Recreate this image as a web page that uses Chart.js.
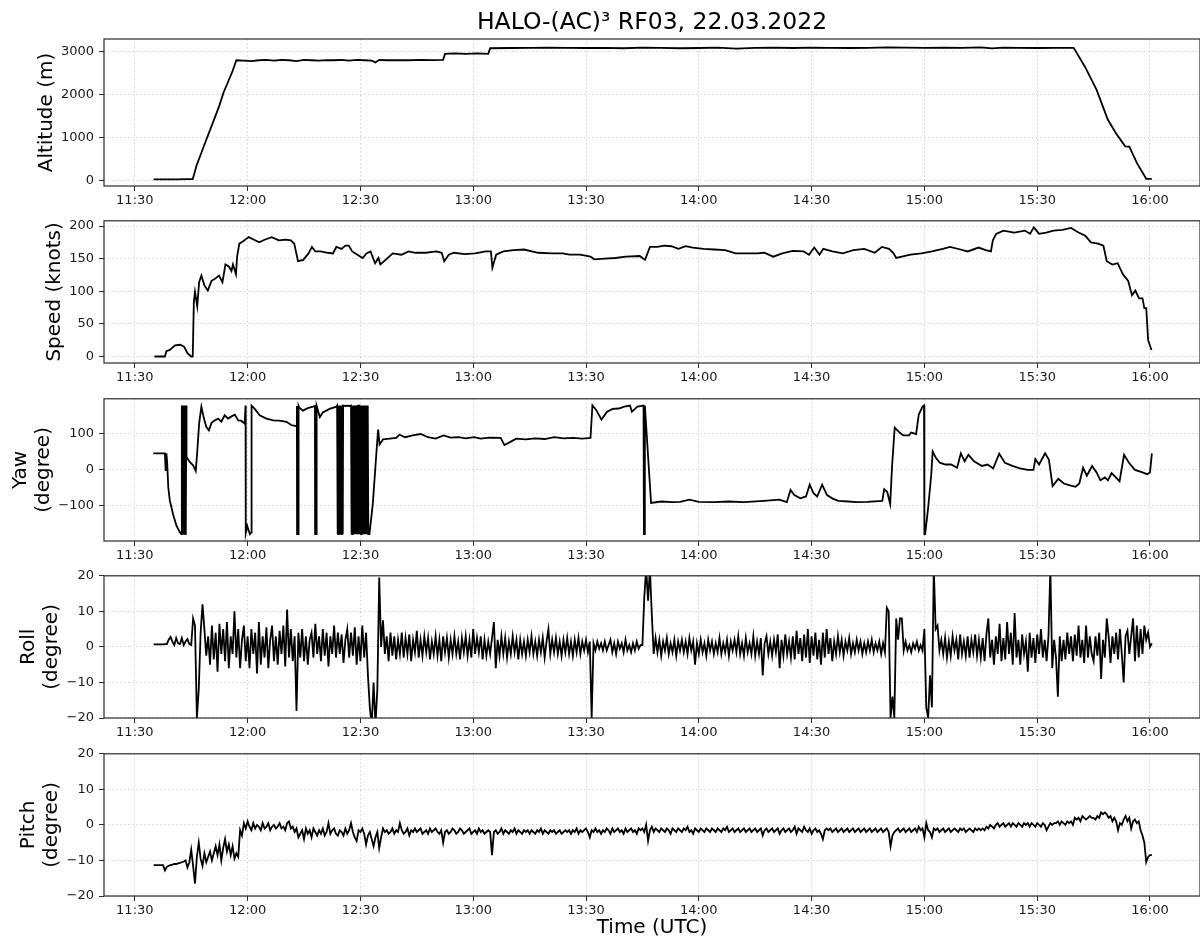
<!DOCTYPE html>
<html>
<head>
<meta charset="utf-8">
<script src="https://cdn.jsdelivr.net/npm/chart.js@4.4.1/dist/chart.umd.min.js"></script>
<style>
  html, body { margin: 0; padding: 0; background: #fff; }
  body { width: 1200px; height: 943px; position: relative; overflow: hidden; }
  canvas { position: absolute; left: 0; }
</style>
</head>
<body>
<script>
const figTitle = 'HALO-(AC)³ RF03, 22.03.2022';
const xTickLabels = ['11:30', '12:00', '12:30', '13:00', '13:30', '14:00', '14:30', '15:00', '15:30', '16:00'];

// [minutes after 00:00 UTC, value]
const altitude = [
  [695, 25], [698, 28], [701, 27], [704, 30], [705.4, 32], [706.5, 370], [707.5, 600], [709, 950], [711, 1400],
  [712.5, 1750], [713.6, 2050], [715, 2340], [716, 2550], [717, 2800], [719, 2790], [721, 2780], [723, 2800],
  [725, 2810], [727, 2790], [729, 2810], [731, 2800], [733, 2780], [735, 2810], [737, 2800], [739, 2790],
  [741, 2805], [743, 2800], [745, 2810], [747, 2790], [749, 2810], [751, 2800], [753, 2790], [754, 2750],
  [755, 2810], [757, 2800], [760, 2805], [763, 2800], [766, 2810], [769, 2805], [772, 2810], [772.5, 2950],
  [775, 2960], [778, 2950], [781, 2960], [784, 2950], [784.5, 3080], [790, 3085], [795, 3090], [800, 3095],
  [805, 3090], [810, 3085], [815, 3090], [820, 3080], [825, 3095], [830, 3090], [835, 3080], [840, 3085],
  [845, 3095], [850, 3070], [855, 3090], [860, 3095], [865, 3085], [870, 3095], [875, 3090], [880, 3085],
  [885, 3090], [890, 3100], [895, 3095], [900, 3090], [905, 3095], [910, 3090], [915, 3100], [918, 3075],
  [921, 3095], [925, 3090], [930, 3085], [935, 3090], [939.7, 3090], [942.7, 2650], [945.8, 2110],
  [948.8, 1415], [950.9, 1106], [953.4, 796], [954.5, 790], [956.5, 410], [959, 40], [960.5, 40]
];

const speed = [
  [695.2, 0], [698, 0], [698.4, 8], [699.3, 10], [700.7, 17], [702.1, 18], [703.1, 15], [704, 5], [705, 0],
  [705.4, 0], [705.7, 84], [706, 99], [706.6, 77], [707.1, 114], [707.7, 124], [708.5, 109], [709.4, 101],
  [710.4, 116], [711.3, 119], [712.4, 124], [713.3, 114], [714.1, 141], [715, 138], [715.7, 131], [716.1, 141],
  [716.9, 126], [717.2, 153], [717.8, 173], [718.9, 177], [720.3, 183], [721.7, 179], [723.1, 175], [724.5, 179],
  [726.4, 183], [728.3, 178], [730.1, 179], [731.5, 178], [732.4, 173], [733.4, 146], [734.8, 148], [736.2, 158],
  [737.1, 168], [738, 161], [739.4, 161], [741.3, 159], [742.7, 158], [743.6, 168], [745, 165], [746, 170],
  [746.9, 170], [747.8, 161], [749.2, 156], [750.6, 151], [751.6, 158], [752.7, 161], [753.9, 143], [754.8, 151],
  [755.3, 141], [756.7, 148], [758.6, 158], [760.9, 156], [762.8, 161], [764.6, 159], [767.4, 159], [770.2, 161],
  [771.6, 159], [772.3, 146], [773.5, 156], [774.9, 159], [777.7, 157], [780.5, 158], [783.3, 161], [784.7, 161],
  [785.1, 136], [786.1, 156], [788, 161], [790.7, 163], [793.5, 164], [797.3, 159], [801, 158], [803.8, 158],
  [805.6, 156], [808.4, 156], [811.2, 153], [812.2, 149], [815, 150], [817.8, 151], [820.6, 153], [824.3, 154],
  [825.7, 148], [827, 168], [829, 168], [830.8, 170], [832.7, 169], [834.6, 165], [836.5, 169], [838.4, 167],
  [841.3, 165], [844.1, 164], [847, 163], [849.8, 158], [852.7, 158], [855.5, 158], [857.4, 159], [859.8, 153],
  [862.2, 158], [865, 162], [867.9, 161], [869.3, 156], [870.7, 167], [872.1, 156], [873.1, 165], [875.5, 161],
  [878.3, 158], [881.1, 163], [884, 165], [886.8, 159], [888.7, 168], [890.6, 165], [891.8, 158], [892.5, 151],
  [894, 153], [896.3, 156], [899.2, 158], [902, 161], [904.9, 165], [906.8, 168], [909.6, 164], [911.5, 161],
  [914.4, 167], [916.3, 163], [917.7, 161], [918.2, 178], [919.1, 188], [921, 193], [923.9, 190], [926.7, 193],
  [928.1, 188], [929.1, 198], [930.5, 188], [932.4, 190], [934.3, 193], [936.7, 194], [939, 197], [941, 190],
  [942.8, 185], [944.3, 175], [946.2, 173], [947.6, 170], [948.5, 146], [950, 141], [951.4, 143], [952.8, 126],
  [954.2, 116], [955.2, 94], [956.1, 101], [957.1, 89], [958, 89], [958.5, 74], [959, 74], [959.5, 25], [960.4, 10]
];

const yaw = [
  [694.9, 46], [698.0, 46], [698.2, -3], [698.4, 46], [698.6, 20], [698.9, -49], [699.3, -85], [700.2, -125],
  [701.1, -156], [702.0, -174], [702.4, -179],
  [702.5, 179], [702.6, -179], [702.7, 179], [702.8, -179], [702.9, 179], [703.0, -179], [703.1, 179],
  [703.2, -179], [703.3, 179], [703.4, -179], [703.5, 179], [703.6, -179], [703.7, 179], [703.75, 36],
  [704.6, 22], [705.5, 13], [706.2, -3], [706.6, 50], [707.1, 129], [707.7, 176], [708.3, 147], [709.0, 120],
  [709.7, 110], [710.4, 131], [711.3, 138], [712.2, 143], [713.0, 134], [713.9, 152], [714.8, 143], [715.7, 149],
  [716.6, 154], [717.5, 138], [718.3, 137], [719.2, 129], [719.45, 179], [719.5, -176], [719.9, -156],
  [720.6, -179], [721.0, -174], [721.05, 179], [721.9, 170], [723.2, 152], [725.0, 143], [726.8, 138],
  [728.5, 137], [730.3, 134], [731.6, 125], [732.9, 122], [733.1, 178], [733.15, -179], [733.5, -179],
  [733.55, 178], [733.7, 174], [734.7, 165], [736.0, 172], [737.4, 176], [737.9, 178], [737.95, -179],
  [738.3, -179], [738.35, 178], [739.2, 147], [740.0, 160], [741.8, 170], [743.6, 176],
  [743.8, 179], [743.9, -179], [744.0, 179], [744.1, -179], [744.2, 179], [744.3, -179], [744.4, 179],
  [744.5, -179], [744.6, 179], [744.7, -179], [744.8, 179], [744.9, -179], [745.0, 179], [745.1, -179],
  [745.2, 179], [745.3, -179], [745.4, 179], [746.0, 178], [746.5, 179], [747.0, 178], [747.5, 179],
  [747.6, -179], [747.7, 179], [747.8, -179], [747.9, 179], [748.0, -179], [748.1, 179], [748.2, -179],
  [748.35, 179], [748.5, -179], [748.6, 179], [748.75, -179], [748.9, 179], [749.0, -179], [749.15, 179],
  [749.3, -179], [749.35, 179], [749.7, 179], [749.8, -179], [749.9, 179], [750.0, -179], [750.1, 179],
  [750.2, -179], [750.3, 179], [750.4, -179], [750.5, 179], [750.6, -179], [750.75, 179], [750.9, -179],
  [751.0, 179], [751.1, -179], [751.25, 179], [751.4, -179], [751.5, 179], [751.6, -179], [751.75, 179],
  [751.9, -179], [752.0, 179], [752.1, -179], [752.4, -179],
  [753.3, -94], [754.2, 40], [754.7, 112], [755.1, 71], [756.0, 85], [757.8, 87], [759.5, 89], [760.4, 98],
  [761.9, 91], [763.9, 96], [766.0, 100], [768.0, 91], [770.0, 87], [772.1, 96], [774, 90], [776.1, 91],
  [778, 88], [780.2, 91], [782, 87], [784.3, 90], [787.3, 89], [788.3, 69], [789.9, 78], [791.4, 87], [794, 85],
  [796.5, 88], [799, 86], [801.6, 91], [804, 88], [806.6, 89], [809, 87], [811.2, 89], [811.7, 180],
  [812.7, 167], [814.1, 140], [815.6, 162], [817.1, 170], [818.7, 171], [820.2, 176], [821.7, 179], [822.2, 162],
  [823.7, 176], [825.3, 179], [825.4, -179], [825.6, -179], [825.65, 179], [827.3, -92], [830, -88], [833, -90],
  [835, -89], [837.5, -83], [840, -89], [844.1, -90], [848, -88], [852, -90], [857.3, -86], [861.4, -83],
  [863.4, -90], [864.4, -56], [865.4, -70], [867.0, -79], [868.5, -74], [869.5, -41], [870.5, -65], [871.5, -74],
  [872.8, -41], [874.1, -70], [875.6, -80], [877.1, -86], [879.7, -88], [882, -90], [884.8, -89], [888.8, -86],
  [889.3, -54], [890.1, -61], [890.9, -95], [891.4, 11], [892.1, 118], [893.4, 104], [894.4, 96], [895.9, 96],
  [896.5, 104], [897.8, 100], [898.5, 154], [899.5, 176], [899.9, 179], [900.0, -179], [900.2, -179],
  [901.0, -105], [901.8, -16], [902.2, 51], [903.1, 33], [904.1, 20], [905.6, 15], [907.1, 15], [908.7, 6],
  [909.7, 46], [910.7, 24], [911.7, 42], [913.2, 24], [915.3, 11], [916.8, 15], [918.3, 4], [919.9, 45],
  [921.4, 20], [923.4, 11], [925.4, 4], [927.5, 0], [929.0, 0], [929.5, 30], [930.5, 15], [932.1, 46],
  [933.1, 29], [934.1, -45], [935.6, -25], [937.1, -38], [938.7, -43], [940.2, -47], [941.2, -38], [942.2, 6],
  [943.2, -16], [944.6, 11], [945.8, -7], [946.8, -29], [948.0, -21], [948.8, -29], [949.8, -9], [950.9, -21],
  [951.9, -32], [953.1, 42], [954.4, 20], [956.0, 0], [958.0, -7], [959.2, -12], [960.0, -7], [960.5, 46]
];

// roll and pitch: one value every half minute from 11:35 UTC (20 values = 10 minutes per row)
const attStart = 695;
const attStep = 0.5;
const roll = [
  0.7, 0.7, 0.7, 0.7, 0.7, 0.7, 0.8, 0.8, 2.0, 2.8, 1.5, 0.5, 2.5, 1.0, 0.8, 2.5, 0.5, 1.5, 2.2, 0.8,
  0.5, 8.0, 6.0, -20, -12, 4.0, 12.0, 5.0, -2.5, 3.0, -5.0, 6.0, -3.5, 4.0, -7.0, 6.5, -2.0, 5.0, -4.0, 7.0,
  -6.0, 3.0, -2.0, 10.0, -3.0, 5.0, -6.0, 2.0, 6.0, -4.0, 3.0, -6.0, 5.0, -2.0, 4.0, -7.5, 7.0, -5.0, 3.0, -3.0,
  5.5, -6.0, 2.0, 6.0, -4.0, 3.0, -5.0, 4.5, -2.0, 6.0, -5.5, 10.5, -3.0, 5.0, -4.0, 3.0, -18.0, 4.0, -3.0, 5.0,
  -4.0, 3.0, -5.0, 2.0, 4.0, -3.0, 6.5, -2.0, 3.0, -4.0, 5.0, -2.5, 4.0, -5.5, 3.0, -2.0, 6.0, -3.0, 4.0, -2.0,
  3.5, -4.5, 2.0, 5.0, -3.0, 4.0, -2.5, 5.5, -5.0, 3.0, -4.0, 6.0, -3.0, 4.0, -8.0, -17.0, -22, -10.0, -22, -12.0,
  19.5, 0.0, 7.5, -2.0, 3.0, -4.0, 4.0, -2.5, 3.0, -3.5, 2.0, -2.0, 4.0, -3.0, 2.5, -2.0, 3.5, -4.0, 2.0, -1.5,
  4.5, -3.0, 2.0, -2.5, 3.0, -1.5, 2.5, -3.5, 1.5, -2.0, 3.0, -2.5, 2.0, -4.0, 3.0, -1.5, 2.5, -3.0, 2.0, -2.0,
  3.0, -2.0, 1.5, -3.5, 2.5, -1.5, 3.0, -2.5, 2.0, -3.0, 5.0, -2.0, 2.5, -1.5, 3.0, -3.5, 2.0, -2.5, 1.5, -2.0,
  2.5, 7.0, -6.0, 2.0, -2.5, 3.0, -2.0, 2.5, -3.0, 1.5, -2.0, 3.0, -1.5, 2.0, -3.5, 2.0, -2.0, 1.5, -2.5, 2.0,
  -1.5, 3.0, -2.0, 1.5, -2.5, 2.0, -1.5, 2.5, -3.0, 1.5, 5.0, -2.0, 2.0, -1.5, 2.5, -2.0, 1.5, -2.5, 2.0, -1.5,
  2.5, -2.0, 1.5, -2.5, 2.0, -1.5, 2.5, -2.0, 1.5, -1.0, 2.0, -1.5, 1.5, -20, 1.0, -1.0, 1.5, -0.5, 1.0, -1.0,
  1.5, -1.0, 0.5, 2.0, -1.5, 1.0, -2.0, 1.5, -0.5, 1.0, -1.5, 2.0, -1.0, 0.5, -1.5, 1.0, -1.0, 1.5, -0.5, 0.5,
  0.5, 14.0, 22, 13.0, 22, 9.0, -2.0, 2.5, -1.5, 2.0, -2.5, 1.5, -1.0, 2.5, -2.0, 1.0, -1.5, 2.0, -2.5, 1.5,
  -1.0, 2.0, -1.5, 1.5, -2.0, 2.5, -1.0, 1.5, -5.0, 1.0, -2.0, 2.0, -1.5, 1.0, -2.5, 2.0, -1.0, 1.5, -2.0, 1.0,
  -1.5, 2.5, -2.0, 1.0, -1.5, 2.0, -2.5, 1.5, -1.0, 2.0, -1.5, 3.0, -2.0, 1.0, -2.5, 2.5, -1.5, 1.0, -2.0, 3.0,
  -2.5, 1.5, -2.0, 2.5, -8.0, 1.0, 3.0, -2.0, 1.5, -2.5, 2.0, -1.5, 3.5, -6.0, 2.0, -2.5, 3.5, -2.0, 1.5, -3.0,
  3.0, -3.5, 4.5, -2.0, 2.5, -4.0, 3.5, -3.0, 5.0, -4.5, 3.0, -2.5, 4.0, -3.5, 2.0, -5.0, 4.0, -3.0, 5.0, -2.0,
  2.5, -4.0, 1.5, -2.0, 3.0, -1.5, 2.0, -2.5, 1.5, -1.0, 2.5, -2.0, 1.0, -1.5, 2.0, -1.0, 1.5, -2.0, 1.0, -1.5,
  1.5, -1.0, 2.0, -1.5, 1.0, -1.0, 1.5, -2.0, 1.0, -1.5, 11.0, 10.0, -20, -14.0, -20, 8.0, 2.0, 8.0, 8.0, -1.0,
  1.5, -1.0, 0.5, -1.5, 1.0, -0.5, 1.5, -1.0, 0.5, -1.0, 5.0, -17.0, -20, -8.0, -17.0, 22, 5.0, 6.0, -1.0, 2.0,
  -2.0, 2.5, -3.0, 1.5, -2.5, 3.0, -1.0, 2.0, -3.5, 3.5, -2.0, 1.5, -2.5, 3.0, -3.0, 2.0, -1.5, 3.5, -2.5, 2.0,
  -3.0, 2.5, -4.0, 3.5, 8.0, -3.0, 2.0, -5.0, 3.0, -2.0, 6.5, -4.0, 2.5, -3.5, 7.0, -2.0, 4.0, -5.0, 9.5, -3.0,
  2.0, -5.0, 3.5, -2.0, 1.5, -7.0, 4.0, -3.0, 2.5, -4.5, 3.5, -2.0, 5.0, -3.0, 2.0, -4.0, 3.0, 22, -6.0, 2.0,
  -3.0, -14.0, 3.0, -4.0, 2.0, -3.5, 4.0, -2.0, 3.0, -4.0, 3.5, -2.5, 6.0, -3.0, 2.0, -4.5, 6.0, -3.0, 3.0, -2.0,
  -4.0, 3.0, -2.5, 4.0, -9.0, 2.0, -3.0, 8.0, 3.0, -4.5, 3.0, -2.0, 4.0, -3.5, 5.0, -2.0, -10.0, 3.0, 4.5, -2.0,
  3.0, 8.0, -4.0, 6.0, -3.0, 5.0, -2.0, 6.0, 2.0, 4.0, 0.0, 1.0
];
const pitch = [
  -11.3, -11.3, -11.3, -11.3, -11.3, -11.3, -12.8, -11.8, -11.5, -11.3, -11.2, -11.0, -11.0, -10.8, -10.7, -10.5, -10.3, -10.0, -12.0, -10.5,
  -7.0, -11.5, -16.5, -9.0, -5.0, -9.5, -11.5, -8.0, -10.5, -9.0, -7.5, -10.0, -8.0, -6.0, -8.5, -5.5, -10.0, -6.5, -4.0, -7.5,
  -5.5, -8.5, -6.0, -9.5, -8.0, -9.0, -1.5, -3.0, 0.5, -1.0, 1.0, -0.5, -1.5, 0.5, -1.0, 0.0, -0.5, -1.5, 0.5, -1.0,
  -0.5, 0.5, -1.5, -0.5, 0.0, -1.0, -0.5, 0.5, -1.0, -0.5, -1.5, 0.5, 1.0, -1.0, -0.5, -2.0, -1.0, -3.5, -2.5, -1.5,
  -4.0, -1.0, -2.5, -1.5, -3.5, -1.0, -2.0, -3.0, -1.5, -2.5, -1.0, -3.0, -2.0, 0.5, -2.5, -1.5, -1.0, -2.5, -3.0, -1.5,
  -2.0, -3.0, -1.0, -2.5, -1.5, 0.5, -2.0, -3.5, -4.5, -1.5, -2.0, -1.0, -2.5, -5.5, -3.0, -2.0, -4.0, -6.0, -3.5, -2.0,
  -6.5, -3.5, -1.0, -2.0, -1.5, -2.5, -2.0, -1.0, -2.5, -1.5, -2.0, 0.5, -1.5, -2.5, -2.0, -1.0, -3.0, -1.5, -2.0, -1.0,
  -2.0, -1.5, -1.0, -2.5, -2.0, -1.5, -2.5, -1.0, -2.0, -1.5, -1.0, -2.0, -2.5, -1.5, -5.0, -2.0, -1.5, -2.5, -2.0, -1.0,
  -1.5, -2.5, -2.0, -1.0, -1.5, -2.5, -2.0, -1.5, -1.0, -2.5, -2.0, -1.5, -2.5, -1.0, -2.0, -1.5, -2.5, -2.0, -1.5, -2.0,
  -8.5, -2.0, -1.5, -2.5, -2.0, -1.0, -2.5, -1.5, -2.0, -2.5, -1.5, -2.0, -1.0, -2.5, -1.5, -2.0, -2.5, -1.5, -2.0, -1.5,
  -2.5, -1.5, -2.0, -2.5, -1.5, -2.0, -1.0, -2.5, -1.5, -2.0, -2.5, -1.5, -2.0, -1.5, -2.5, -2.0, -1.5, -2.5, -2.0, -1.5,
  -2.0, -1.5, -2.5, -1.5, -2.0, -1.0, -2.5, -1.5, -2.0, -1.5, -1.0, -2.0, -3.5, -1.5, -2.0, -1.0, -2.0, -1.5, -2.5, -1.5,
  -2.0, -1.0, -1.5, -2.5, -1.0, -2.0, -1.5, -1.0, -2.0, -1.5, -2.5, -1.0, -2.0, -1.5, -1.0, -2.0, -1.5, -2.5, -1.0, -1.5,
  -1.0, -2.0, 0.0, -4.5, -1.5, -0.5, -2.0, -1.0, -1.5, -2.0, -1.0, -1.5, -2.0, -1.0, -1.5, -2.5, -1.0, -1.5, -2.0, -1.0,
  -1.5, -2.0, -1.0, -1.5, -0.5, -2.0, -1.5, -2.5, -1.0, -1.5, -2.0, -1.0, -1.5, -2.0, -1.0, -1.5, -2.0, -1.0, -1.5, -2.0,
  -1.0, -1.5, -2.0, -1.0, -1.5, -0.5, -2.0, -1.5, -1.0, -2.0, -1.5, -1.0, -2.0, -1.5, -1.0, -2.0, -1.5, -1.0, -2.0, -1.5,
  -1.0, -2.0, -1.5, -1.0, -3.0, -1.5, -1.0, -2.0, -1.5, -1.0, -2.0, -1.5, -1.0, -2.5, -1.5, -1.0, -2.0, -1.5, -1.0, -2.0,
  -1.5, -0.5, -2.5, -1.0, -1.5, -2.0, -0.5, -1.5, -2.0, -1.0, -2.5, -1.5, -1.0, -2.0, -1.5, -2.5, -4.0, -1.5, -1.0, -1.5,
  -1.0, -2.0, -1.5, -1.0, -2.0, -1.5, -1.0, -2.0, -1.5, -1.0, -2.0, -1.5, -1.0, -2.0, -1.5, -1.0, -2.0, -1.5, -1.0, -2.0,
  -1.5, -1.0, -2.0, -1.5, -1.0, -2.0, -1.5, -1.0, -2.0, -1.5, -1.0, -2.0, -6.0, -3.0, -2.0, -1.5, -1.0, -2.0, -1.5, -1.0,
  -2.0, -1.5, -1.0, -2.0, -1.5, -1.0, -2.0, -0.5, -1.5, -1.0, -3.5, 0.5, -1.5, -2.0, -3.5, -1.0, -1.5, -1.0, -2.0, -1.5,
  -1.0, -2.0, -1.5, -1.0, -2.0, -1.5, -1.0, -1.5, -2.0, -1.0, -1.5, -1.0, -2.0, -1.5, -1.0, -1.5, -2.0, -1.0, -1.5, -1.0,
  -1.5, -1.0, -1.5, -0.5, -1.0, 0.0, -0.5, -1.0, 0.0, 0.5, -0.5, 0.0, 0.5, -0.5, 0.0, 0.5, -0.5, 0.5, 0.0, -0.5,
  0.5, 0.0, -0.5, 0.5, 0.0, 0.5, -0.5, 0.5, 0.0, -0.5, 0.5, 0.0, -0.5, 0.5, 0.0, -1.5, -0.5, 0.5, 0.0, 0.5,
  0.5, 1.0, 0.0, 1.0, 0.5, 0.0, 1.0, 0.5, 1.0, 0.0, 2.0, 1.5, 2.0, 1.0, 2.5, 2.0, 1.5, 2.0, 2.5, 2.0,
  2.0, 1.5, 2.5, 2.0, 3.5, 3.0, 3.5, 3.0, 2.0, 2.5, 1.0, 2.0, 1.0, -1.5, 0.5, 0.0, 1.5, 2.5, 1.0, 2.0,
  -1.0, 1.0, 1.5, 0.5, 1.0, -1.5, -3.0, -5.0, -10.5, -9.0, -8.5, -8.5
];

const yTicksAlt = [0, 1000, 2000, 3000];
const yTicksSpeed = [0, 50, 100, 150, 200];
const yTicksYaw = [-100, 0, 100];
const yTicksAtt = [-20, -10, 0, 10, 20];

Chart.defaults.font.family = "'DejaVu Sans', sans-serif";
Chart.defaults.color = '#1a1a1a';

const xMin = 681.8, xMax = 973.3;
const tickMinutes = xTickLabels.map(s => { const [h, m] = s.split(':'); return +h * 60 + +m; });

function pairsToPoints(pairs) { return pairs.map(p => ({ x: p[0], y: p[1] })); }
function gridToPoints(start, step, vals) { return vals.map((v, i) => ({ x: start + i * step, y: v })); }

// axes box drawn on top like matplotlib spines
const framePlugin = {
  id: 'frame',
  afterDatasetsDraw(chart) {
    const a = chart.chartArea, ctx = chart.ctx;
    ctx.save();
    ctx.strokeStyle = '#2b2b2b';
    ctx.lineWidth = 1.2;
    ctx.strokeRect(a.left, a.top, a.right - a.left, a.bottom - a.top);
    ctx.restore();
  }
};

const panels = [
  { top: 0, padTop: 0, xh: 30, label: 'Altitude (m)', titlePad: 35, data: pairsToPoints(altitude),
    ymin: -128, ymax: 3295, yticks: yTicksAlt, showTitle: true },
  { top: 208, padTop: 8, xh: 30, label: 'Speed (knots)', titlePad: 43.5, data: pairsToPoints(speed),
    ymin: -10, ymax: 208, yticks: yTicksSpeed },
  { top: 386, padTop: 8, xh: 30, label: ['Yaw', '(degree)'], titlePad: 9.5, data: pairsToPoints(yaw),
    ymin: -198, ymax: 198, yticks: yTicksYaw },
  { top: 563, padTop: 8, xh: 30, label: ['Roll', '(degree)'], titlePad: 17.5,
    data: gridToPoints(attStart, attStep, roll), ymin: -20, ymax: 20, yticks: yTicksAtt },
  { top: 741, padTop: 8, xh: 47, label: ['Pitch', '(degree)'], titlePad: 17.5,
    data: gridToPoints(attStart, attStep, pitch), ymin: -20, ymax: 20, yticks: yTicksAtt, xTitle: 'Time (UTC)' }
];

const gridColor = 'rgba(170,170,170,0.5)';

panels.forEach((p) => {
  const titleH = p.showTitle ? 39 : 0;
  const canvas = document.createElement('canvas');
  canvas.width = 1200;
  canvas.height = titleH + p.padTop + 147 + p.xh;
  canvas.style.top = p.top + 'px';
  document.body.appendChild(canvas);

  new Chart(canvas, {
    type: 'line',
    data: {
      datasets: [{
        data: p.data,
        borderColor: '#000',
        borderWidth: 1.8,
        pointRadius: 0,
        tension: 0,
        fill: false
      }]
    },
    options: {
      responsive: false,
      animation: false,
      layout: { padding: { top: p.padTop, left: 0, right: 0, bottom: 0 } },
      plugins: {
        legend: { display: false },
        tooltip: { enabled: false },
        title: {
          display: !!p.showTitle,
          text: figTitle,
          fullSize: false,
          color: '#000',
          font: { size: 23.5, weight: 'normal', lineHeight: 1.2 },
          padding: { top: 9, bottom: 1.8 }
        }
      },
      scales: {
        x: {
          type: 'linear',
          min: xMin,
          max: xMax,
          afterBuildTicks: (s) => { s.ticks = tickMinutes.map(v => ({ value: v })); },
          afterFit: (s) => { s.height = p.xh; },
          ticks: {
            autoSkip: false,
            maxRotation: 0,
            padding: 1.5,
            font: { size: 13 },
            callback: (v, i) => xTickLabels[i]
          },
          grid: { color: gridColor, lineWidth: 1, tickLength: 5, tickColor: '#2b2b2b', tickWidth: 1 },
          border: { display: false, dash: [1.5, 2.5] },
          title: {
            display: !!p.xTitle,
            text: p.xTitle || '',
            color: '#000',
            font: { size: 20, lineHeight: 1.15 },
            padding: { top: 0, bottom: 3.5 }
          }
        },
        y: {
          min: p.ymin,
          max: p.ymax,
          afterBuildTicks: (s) => { s.ticks = p.yticks.map(v => ({ value: v })); },
          afterFit: (s) => { s.width = 104; },
          ticks: {
            padding: 5,
            font: { size: 13 },
            callback: (v) => (v < 0 ? '\u2212' + Math.abs(v) : String(v))
          },
          grid: { color: gridColor, lineWidth: 1, tickLength: 5, tickColor: '#2b2b2b', tickWidth: 1 },
          border: { display: false, dash: [1.5, 2.5] },
          title: {
            display: true,
            text: p.label,
            color: '#000',
            font: { size: 20, lineHeight: 1.15 },
            padding: { top: p.titlePad, bottom: 0 }
          }
        }
      }
    },
    plugins: [framePlugin]
  });
});
</script>
</body>
</html>
